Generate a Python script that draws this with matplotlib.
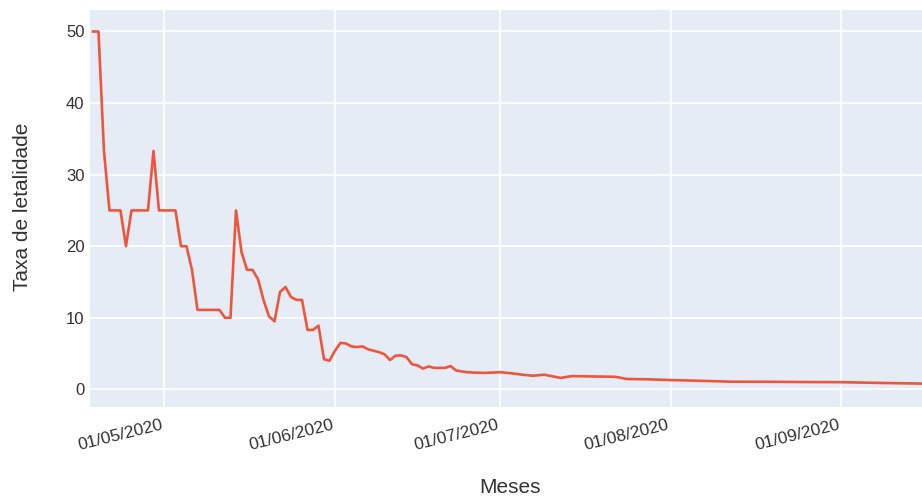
import matplotlib
matplotlib.use("Agg")
import matplotlib.pyplot as plt
import matplotlib.dates as mdates
import pandas as pd

dates = [
    "2020-04-18", "2020-04-19", "2020-04-20", "2020-04-21", "2020-04-22", "2020-04-23",
    "2020-04-24", "2020-04-25", "2020-04-26", "2020-04-27", "2020-04-28", "2020-04-29",
    "2020-04-30", "2020-05-01", "2020-05-02", "2020-05-03", "2020-05-04", "2020-05-05",
    "2020-05-06", "2020-05-07", "2020-05-08", "2020-05-09", "2020-05-10", "2020-05-11",
    "2020-05-12", "2020-05-13", "2020-05-14", "2020-05-15", "2020-05-16", "2020-05-17",
    "2020-05-18", "2020-05-19", "2020-05-20", "2020-05-21", "2020-05-22", "2020-05-23",
    "2020-05-24", "2020-05-25", "2020-05-26", "2020-05-27", "2020-05-28", "2020-05-29",
    "2020-05-30", "2020-05-31", "2020-06-01", "2020-06-02", "2020-06-03", "2020-06-04",
    "2020-06-05", "2020-06-06", "2020-06-07", "2020-06-08", "2020-06-09", "2020-06-10",
    "2020-06-11", "2020-06-12", "2020-06-13", "2020-06-14", "2020-06-15", "2020-06-16",
    "2020-06-17", "2020-06-18", "2020-06-19", "2020-06-20", "2020-06-21", "2020-06-22",
    "2020-06-23", "2020-06-24", "2020-06-25", "2020-06-26", "2020-06-28", "2020-06-30",
    "2020-07-01", "2020-07-03", "2020-07-05", "2020-07-07", "2020-07-09", "2020-07-10",
    "2020-07-12", "2020-07-14", "2020-07-18", "2020-07-22", "2020-07-24", "2020-07-28",
    "2020-08-01", "2020-08-06", "2020-08-12", "2020-08-20", "2020-08-26", "2020-09-01",
    "2020-09-08", "2020-09-16",
]
taxa = [
    50, 50, 33.3, 25, 25, 25,
    20, 25, 25, 25, 25, 33.3,
    25, 25, 25, 25, 20, 20,
    16.7, 11.1, 11.1, 11.1, 11.1, 11.1,
    10, 10, 25, 19.2, 16.7, 16.7,
    15.4, 12.5, 10.2, 9.5, 13.6, 14.3,
    12.9, 12.5, 12.5, 8.3, 8.3, 8.9,
    4.2, 4.0, 5.4, 6.5, 6.4, 6.0,
    5.9, 6.0, 5.6, 5.4, 5.2, 4.9,
    4.1, 4.7, 4.75, 4.5, 3.5, 3.35,
    2.9, 3.2, 3.0, 3.0, 3.0, 3.25,
    2.65, 2.5, 2.4, 2.35, 2.3, 2.35,
    2.4, 2.25, 2.05, 1.9, 2.05, 1.9,
    1.6, 1.85, 1.8, 1.75, 1.45, 1.4,
    1.3, 1.2, 1.07, 1.05, 1.02, 1.0,
    0.9, 0.8,
]
x_ticks = ["2020-05-01", "2020-06-01", "2020-07-01", "2020-08-01", "2020-09-01"]
y_ticks = [0, 10, 20, 30, 40, 50]
x_title = "Meses"
y_title = "Taxa de letalidade"

plt.rcParams["font.family"] = ["Liberation Sans", "DejaVu Sans"]

fig = plt.figure(figsize=(9.22, 4.96), dpi=100)
ax = fig.add_axes([0.0976, 0.1804, 0.9024, 0.7994])
ax.set_facecolor("#E5ECF6")

x = pd.to_datetime(dates)
ax.plot(x, taxa, color="#EF553B", linewidth=1.9, zorder=3)

ax.set_xlim(pd.Timestamp("2020-04-17 11:00"), pd.Timestamp("2020-09-15 17:00"))
ax.set_ylim(-2.4, 53.0)

ax.set_xticks(pd.to_datetime(x_ticks))
ax.xaxis.set_major_formatter(mdates.DateFormatter("%d/%m/%Y"))
ax.set_yticks(y_ticks)

ax.grid(True, color="white", linewidth=1.2, zorder=0)
ax.set_axisbelow(True)
for s in ax.spines.values():
    s.set_visible(False)
ax.tick_params(axis="both", length=0, colors="#333333")
ax.tick_params(axis="x", pad=8, labelsize=12.5)
ax.tick_params(axis="y", pad=4, labelsize=12)
for lab in ax.get_xticklabels():
    lab.set_rotation(14)
    lab.set_ha("right")
    lab.set_va("top")

ax.set_ylabel(y_title, fontsize=15, color="#333333")
ax.yaxis.set_label_coords(-0.0697, 0.504)
ax.set_xlabel(x_title, fontsize=15, color="#333333", va="baseline")
ax.xaxis.set_label_coords(0.505, -0.218)

fig.savefig("out.png", dpi=100)
